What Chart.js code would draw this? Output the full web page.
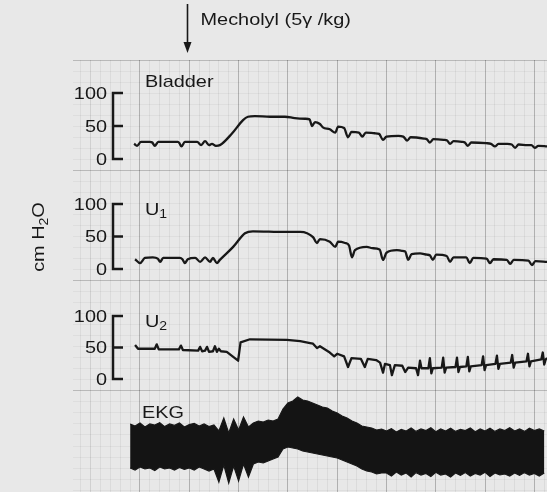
<!DOCTYPE html>
<html>
<head>
<meta charset="utf-8">
<script src="https://cdn.jsdelivr.net/npm/chart.js@4.4.1/dist/chart.umd.min.js"></script>
<style>
  html, body { margin: 0; padding: 0; background: #e8e8e8; }
  #wrap { width: 547px; height: 492px; }
</style>
</head>
<body>
<div id="wrap"><canvas id="rec" width="547" height="492"></canvas></div>
<script>
// time in s (0 = first major paper line), pressures in cm H2O
const bladderTime = [-1.2, -0.6, 0.2, 2.0, 2.5, 3.0, 3.7, 7.7, 8.0, 8.4, 9.1, 11.6, 12.4, 13.2, 14.0, 14.6, 15.4, 16.2,
  18.7, 20.9, 21.9, 23.3, 26.4, 29.4, 31.4, 33.5, 34.4, 34.9, 35.5, 36.5, 37.1, 38.5, 39.6, 40.2, 41.4, 42.2, 42.9,
  44.4, 45.1, 45.8, 47.6, 48.5, 49.3, 50.0, 52.4, 53.4, 54.2, 54.9, 57.6, 58.2, 58.8, 59.5, 61.6, 62.3, 62.9, 63.6,
  65.3, 65.9, 66.5, 67.2, 70.2, 71.2, 72.0, 72.7, 74.5, 75.4, 76.1, 76.8, 78.6, 79.4, 80.1, 80.8, 82.6];
const bladderCm = [23, 20, 26, 26, 25, 20, 26, 26, 24, 19, 26, 26, 21, 27, 21, 23, 20, 21,
  39, 59, 64, 65, 64, 64, 62, 61, 60, 50, 56, 53, 48, 45, 40, 49, 47, 33, 41,
  40, 34, 40, 39, 38, 29, 34, 35, 34, 28, 33, 31, 30, 25, 30, 29, 28, 23, 27,
  26, 25, 20, 25, 24, 23, 19, 23, 23, 22, 17, 22, 21, 21, 17, 20, 19];

const u1Time = [-1.0, 0, 1.0, 2.6, 3.6, 4.1, 4.7, 8.1, 8.6, 9.1, 9.7, 11.2, 12.2, 13.2, 14.2, 14.8, 15.6, 16.2,
  18.9, 21.3, 22.9, 29.4, 32.5, 33.9, 35.1, 35.9, 36.5, 38.5, 39.6, 40.2, 41.6, 42.4, 43.0, 43.6,
  46.0, 47.1, 48.6, 49.3, 50.0, 52.1, 53.1, 53.8, 54.4, 55.1, 56.8, 58.2, 58.8, 59.4, 60.1,
  62.2, 62.9, 63.6, 66.2, 66.9, 67.6, 70.3, 71.0, 71.7, 74.4, 75.1, 75.8, 78.8, 79.5, 80.2, 82.6];
const u1Cm = [15, 9, 17, 18, 16, 11, 17, 17, 15, 9, 15, 17, 11, 18, 11, 17, 9, 14,
  34, 55, 58, 57, 57, 55, 49, 40, 46, 42, 34, 42, 40, 36, 18, 29,
  34, 32, 30, 14, 25, 29, 28, 27, 14, 23, 24, 22, 21, 14, 22,
  20, 11, 18, 18, 9, 17, 16, 9, 15, 14, 8, 14, 13, 6, 12, 11];

const u2Time = [-1.0, -0.4, 3.0, 3.4, 3.8, 7.9, 8.3, 8.7, 11.8, 12.2, 12.6, 13.2, 13.6, 14.0, 14.8, 15.2, 15.6, 16.0, 16.4,
  17.6, 19.9, 20.4, 22.3, 29.8, 32.5, 34.5, 35.1, 35.9, 36.5, 38.5, 39.4, 40.0, 41.4, 42.2, 42.9,
  44.8, 45.6, 46.2, 47.9, 48.7, 49.3, 49.7, 50.7, 51.1, 51.7, 53.2, 53.8, 54.4, 56.0, 56.4, 56.8, 57.1,
  58.5, 58.8, 59.1, 59.4, 61.2, 61.5, 61.8, 62.1, 64.0, 64.3, 64.6, 64.9, 66.2, 66.5, 66.8, 67.1,
  69.3, 69.6, 69.9, 70.2, 72.1, 72.4, 72.7, 73.0, 75.2, 75.5, 75.8, 76.1, 78.4, 78.7, 79.0, 79.3,
  81.4, 81.7, 82.0, 82.3, 82.6];
const u2Cm = [54, 48, 48, 55, 47, 47, 53, 46, 45, 51, 44, 45, 51, 43, 44, 52, 43, 48, 44,
  43, 29, 58, 63, 62, 60, 57, 56, 49, 52, 42, 36, 40, 36, 19, 33,
  32, 19, 32, 30, 26, 10, 24, 22, 6, 22, 21, 11, 18, 17, 6, 29, 17,
  17, 33, 9, 17, 18, 34, 10, 18, 19, 34, 11, 19, 20, 35, 12, 20,
  22, 36, 14, 22, 24, 37, 16, 24, 26, 38, 18, 26, 28, 40, 20, 28,
  31, 42, 23, 31, 33];

// EKG drawn as its upper and lower envelope (mV, roughly)
const ekgTime = [-2, -1, 0, 1, 2, 3, 4, 5, 6, 7, 8, 9, 10, 11, 12, 13, 14, 15, 16, 17, 18, 19, 20,
  21, 22, 23, 24, 25, 26, 27, 28, 29, 30, 31, 32, 33, 34, 35, 36, 37, 38, 39, 40, 41, 42, 43, 44,
  45, 46, 47, 48, 49, 50, 51, 52, 53, 54, 55, 56, 57, 58, 59, 60, 61, 62, 63, 64, 65, 66, 67, 68,
  69, 70, 71, 72, 73, 74, 75, 76, 77, 78, 79, 80, 81, 82];
const ekgUpper = [1.05, 0.95, 1.1, 0.9, 1.05, 1.0, 1.12, 0.92, 1.05, 0.98, 1.1, 0.9, 1.02, 1.08, 0.95, 1.05, 0.92, 1.0,
  0.7, 1.35, 0.6, 1.3, 0.75, 1.4, 0.9,
  1.1, 1.2, 1.15, 1.25, 1.2, 1.3,
  1.8, 2.1, 2.2, 2.4, 2.25, 2.2, 2.1,
  2.0, 1.9, 1.85, 1.7, 1.6, 1.45, 1.35, 1.2, 1.1, 0.95, 0.9, 0.85, 0.75, 0.8,
  0.7, 0.82, 0.65, 0.78, 0.7, 0.85, 0.68, 0.8, 0.72, 0.86, 0.66, 0.8, 0.7, 0.84, 0.68, 0.78, 0.72,
  0.85, 0.66, 0.8, 0.7, 0.84, 0.68, 0.8, 0.72, 0.86, 0.7, 0.8, 0.68, 0.84, 0.72, 0.8, 0.7];
const ekgLower = [-1.15, -1.25, -1.1, -1.2, -1.15, -1.28, -1.1, -1.2, -1.15, -1.25, -1.12, -1.22, -1.15, -1.25, -1.1, -1.2, -1.3, -1.2,
  -1.85, -1.0, -1.9, -1.05, -1.8, -0.95, -1.6,
  -0.95, -0.85, -0.9, -0.8, -0.7, -0.6,
  -0.2, -0.1, -0.15, -0.2, -0.3, -0.35, -0.4,
  -0.45, -0.5, -0.55, -0.6, -0.65, -0.75, -0.85, -0.95, -1.05, -1.2, -1.3, -1.35, -1.45, -1.4,
  -1.4, -1.55, -1.35, -1.5, -1.4, -1.6, -1.38, -1.5, -1.42, -1.58, -1.36, -1.5, -1.45, -1.6, -1.4, -1.52, -1.38,
  -1.55, -1.42, -1.5, -1.36, -1.58, -1.4, -1.5, -1.45, -1.55, -1.4, -1.52, -1.38, -1.5, -1.42, -1.55, -1.4];

const scaleTicks = [0, 50, 100];
const injectionTime = 9.5;
const injectionLabel = 'Mecholyl (5\u03b3 /kg)';

const ink = '#181818';
const paperColor = '#e8e8e8';
const face = '"Liberation Sans", Arial, Helvetica, sans-serif';
const stretch = 1.17;

const pts = (ts, vs) => ts.map((t, i) => ({ x: t, y: vs[i] }));

const trace = (label, ts, vs, axis, smooth) => ({
  label, data: pts(ts, vs), yAxisID: axis,
  borderColor: ink, borderWidth: 2.3, pointRadius: 0,
  tension: smooth ? 0.4 : 0, cubicInterpolationMode: smooth ? 'monotone' : 'default',
  borderJoinStyle: 'round', fill: false
});

// draws a run of text pieces [text, size, dy], wider glyphs like the original lettering
function text(c, parts, x, y, align, rot) {
  c.save();
  c.translate(x, y);
  if (rot) c.rotate(rot);
  c.scale(stretch, 1);
  let w = 0;
  parts.forEach(p => { c.font = p[1] + 'px ' + face; w += c.measureText(p[0]).width; });
  let cx = align === 'right' ? -w : align === 'center' ? -w / 2 : 0;
  c.textAlign = 'left';
  c.textBaseline = 'alphabetic';
  c.fillStyle = ink;
  parts.forEach(p => {
    c.font = p[1] + 'px ' + face;
    c.fillText(p[0], cx, p[2]);
    cx += c.measureText(p[0]).width;
  });
  c.restore();
}

const channels = [
  { axis: 'yB', name: [['Bladder', 17, 0]], nameY: 87 },
  { axis: 'yU1', name: [['U', 17, 0], ['1', 12, 3]], nameY: 215 },
  { axis: 'yU2', name: [['U', 17, 0], ['2', 12, 3]], nameY: 327 }
];

const paper = {
  id: 'paper',
  beforeDraw(chart) {
    const c = chart.ctx;
    c.save();
    c.fillStyle = paperColor;
    c.fillRect(0, 0, chart.width, chart.height);
    c.restore();
  },
  afterDatasetsDraw(chart) {
    const c = chart.ctx;
    c.save();
    c.strokeStyle = ink;
    c.fillStyle = ink;

    channels.forEach(ch => {
      const s = chart.scales[ch.axis];
      const top = s.getPixelForValue(scaleTicks[scaleTicks.length - 1]);
      const bot = s.getPixelForValue(scaleTicks[0]);
      c.lineWidth = 2.5;
      c.beginPath();
      c.moveTo(113, top - 1.2);
      c.lineTo(113, bot + 1.2);
      scaleTicks.forEach(v => {
        const py = s.getPixelForValue(v);
        c.moveTo(113, py);
        c.lineTo(123, py);
      });
      c.stroke();
      scaleTicks.forEach(v => text(c, [[String(v), 17, 0]], 107, s.getPixelForValue(v) + 6, 'right'));
      text(c, ch.name, 145, ch.nameY, 'left');
    });

    text(c, [['EKG', 17, 0]], 142, 418, 'left');
    text(c, [['cm H', 17, 0], ['2', 12, 4], ['O', 17, 0]], 44, 237, 'center', -Math.PI / 2);

    // injection marker
    const ax = Math.round(chart.scales.x.getPixelForValue(injectionTime)) + 0.5;
    c.lineWidth = 1.6;
    c.beginPath();
    c.moveTo(ax, 4);
    c.lineTo(ax, 45);
    c.stroke();
    c.beginPath();
    c.moveTo(ax - 4, 42);
    c.lineTo(ax + 4, 42);
    c.lineTo(ax, 53);
    c.closePath();
    c.fill();
    text(c, [[injectionLabel, 17, 0]], ax + 13, 25, 'left');
    c.restore();
  }
};

const noLabels = { display: false, includeBounds: false, maxTicksLimit: 1000 };

new Chart(document.getElementById('rec'), {
  type: 'line',
  data: {
    datasets: [
      trace('Bladder', bladderTime, bladderCm, 'yB', true),
      trace('U1', u1Time, u1Cm, 'yU1', true),
      trace('U2', u2Time, u2Cm, 'yU2', false),
      { label: 'EKG top', data: pts(ekgTime, ekgUpper), yAxisID: 'yE', borderColor: ink, borderWidth: 1.2,
        pointRadius: 0, tension: 0, fill: false },
      { label: 'EKG bottom', data: pts(ekgTime, ekgLower), yAxisID: 'yE', borderColor: ink, borderWidth: 1.2,
        pointRadius: 0, tension: 0, fill: '-1', backgroundColor: '#141414' }
    ]
  },
  options: {
    responsive: false,
    animation: false,
    layout: { padding: { left: 73, top: 60, right: 0, bottom: 0 } },
    plugins: { legend: { display: false }, tooltip: { enabled: false } },
    scales: {
      x: {
        type: 'linear', min: -13.59, max: 82.56,
        ticks: { ...noLabels, stepSize: 10 },
        grid: {
          color: ctx => ctx.tick.value < 0 ? 'rgba(0,0,0,0.1)' : 'rgba(0,0,0,0.24)',
          lineWidth: 1, drawTicks: false
        },
        border: { display: false }
      },
      xMinor: {
        type: 'linear', axis: 'x', position: 'bottom', min: -13.59, max: 82.56,
        ticks: { ...noLabels, stepSize: 2 },
        grid: {
          color: ctx => Math.round(ctx.tick.value) % 10 === 0 ? 'rgba(0,0,0,0)' : 'rgba(0,0,0,0.055)',
          drawTicks: false
        },
        border: { display: false }
      },
      yPaper: {
        type: 'linear', axis: 'y', position: 'left', reverse: true, min: 0, max: 39.17,
        ticks: { ...noLabels, stepSize: 1 },
        grid: {
          color: ctx => Math.round(ctx.tick.value) % 10 === 0 ? 'rgba(0,0,0,0.2)' : 'rgba(0,0,0,0.045)',
          drawTicks: false
        },
        border: { display: false }
      },
      // each channel gets its own scale, offset so its 0-100 band sits in its strip
      yB: { display: false, min: -504.5, max: 150.0 },
      yU1: { display: false, min: -343.1, max: 321.5 },
      yU2: { display: false, min: -179.4, max: 506.3 },
      yE: { display: false, min: -2.35, max: 19.25 }
    }
  },
  plugins: [paper]
});
</script>
</body>
</html>
